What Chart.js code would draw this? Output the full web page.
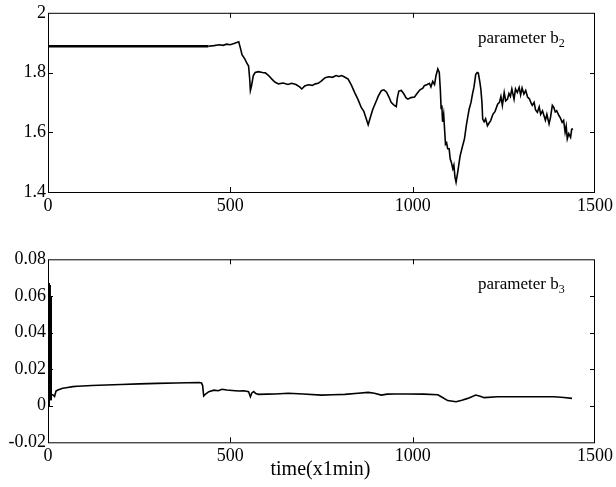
<!DOCTYPE html>
<html>
<head>
<meta charset="utf-8">
<script src="https://cdn.jsdelivr.net/npm/chart.js@4.4.1/dist/chart.umd.min.js"></script>
<style>
  html, body { margin: 0; padding: 0; background: #fff; }
  #wrap { position: relative; width: 616px; height: 487px; }
  #top-box { position: absolute; left: 0; top: 0; width: 616px; height: 230px; }
  #bottom-box { position: absolute; left: 0; top: 230px; width: 616px; height: 257px; }
</style>
</head>
<body>
<div id="wrap">
  <div id="top-box"><canvas id="chart-b2" width="616" height="230"></canvas></div>
  <div id="bottom-box"><canvas id="chart-b3" width="616" height="257"></canvas></div>
</div>
<script>
// Parameter b2
const b2Time = [0, 100, 200, 300, 400, 440, 455, 470, 480, 490, 500, 510, 523, 528, 532, 540, 545, 550, 553, 555,
  558, 563, 568, 577, 588, 596, 605, 614, 622, 632, 645, 658, 668, 680, 690, 696, 704, 714, 725, 733,
  741, 750, 760, 770, 780, 790, 798, 805, 812, 823, 832, 841, 850, 859, 866, 872, 878, 884, 891, 898,
  906, 914, 921, 928, 935, 941, 948, 955, 958, 962, 969, 976, 982, 987, 995, 1005, 1012, 1020, 1028, 1032,
  1040, 1046, 1050, 1055, 1060, 1064, 1069, 1073, 1076, 1078, 1080, 1082, 1085, 1088, 1090, 1093, 1096, 1100, 1103, 1106,
  1110, 1113, 1116, 1119, 1124, 1130, 1136, 1142, 1148, 1155, 1160, 1164, 1168, 1173, 1177, 1180, 1184, 1187, 1190, 1192,
  1196, 1200, 1205, 1210, 1214, 1220, 1226, 1233, 1238, 1242, 1246, 1251, 1255, 1260, 1264, 1268, 1272, 1278, 1282, 1287,
  1292, 1296, 1300, 1305, 1310, 1315, 1320, 1324, 1328, 1333, 1337, 1342, 1347, 1351, 1356, 1360, 1364, 1368, 1374, 1378,
  1383, 1387, 1391, 1395, 1401, 1405, 1410, 1414, 1418, 1421, 1424, 1428, 1433, 1436, 1440];
const b2Value = [1.888, 1.888, 1.888, 1.888, 1.888, 1.888, 1.890, 1.893, 1.891, 1.895, 1.893, 1.897, 1.903, 1.880, 1.860, 1.845, 1.832, 1.822, 1.780, 1.740,
  1.755, 1.790, 1.800, 1.803, 1.800, 1.799, 1.790, 1.778, 1.768, 1.762, 1.765, 1.760, 1.764, 1.760, 1.752, 1.745, 1.755, 1.759, 1.757, 1.762,
  1.764, 1.772, 1.783, 1.786, 1.784, 1.790, 1.787, 1.790, 1.786, 1.778, 1.758, 1.733, 1.710, 1.683, 1.670, 1.648, 1.625, 1.650, 1.678, 1.698,
  1.722, 1.739, 1.742, 1.735, 1.718, 1.700, 1.692, 1.686, 1.715, 1.738, 1.740, 1.728, 1.715, 1.711, 1.716, 1.718, 1.730, 1.742, 1.748, 1.756,
  1.760, 1.764, 1.752, 1.770, 1.760, 1.790, 1.812, 1.800, 1.740, 1.680, 1.690, 1.635, 1.660, 1.600, 1.560, 1.565, 1.545, 1.545, 1.510, 1.500,
  1.478, 1.490, 1.450, 1.433, 1.470, 1.520, 1.550, 1.578, 1.630, 1.678, 1.700, 1.728, 1.750, 1.794, 1.800, 1.798, 1.770, 1.744, 1.700, 1.644,
  1.635, 1.645, 1.622, 1.632, 1.639, 1.660, 1.670, 1.694, 1.700, 1.720, 1.690, 1.733, 1.705, 1.711, 1.730, 1.720, 1.745, 1.711, 1.745, 1.733,
  1.750, 1.725, 1.748, 1.728, 1.740, 1.718, 1.712, 1.700, 1.690, 1.700, 1.675, 1.667, 1.685, 1.660, 1.672, 1.656, 1.640, 1.660, 1.628, 1.650,
  1.690, 1.683, 1.668, 1.672, 1.656, 1.648, 1.633, 1.640, 1.600, 1.620, 1.578, 1.595, 1.583, 1.610, 1.611];

// Parameter b3
const b3Time = [0, 2, 3, 4, 5, 6, 7, 8, 9, 13, 18, 22, 27, 33, 40, 50, 68, 80, 95, 120,
  159, 200, 250, 300, 350, 414, 421, 424, 427, 433, 441, 455, 467, 477, 490, 505, 523, 537, 550, 553,
  555, 559, 564, 570, 577, 600, 623, 659, 700, 750, 780, 814, 850, 878, 895, 914, 930, 951, 987, 1030,
  1069, 1082, 1096, 1119, 1135, 1151, 1173, 1185, 1196, 1233, 1280, 1324, 1387, 1415, 1437];
const b3Value = [0.000, 0.067, 0.005, 0.066, 0.033, 0.060, 0.008, 0.003, 0.006, 0.006, 0.005, 0.008, 0.0086, 0.009, 0.0095, 0.0098, 0.0104, 0.0106, 0.0108, 0.0110,
  0.0113, 0.0116, 0.0119, 0.0122, 0.0124, 0.0127, 0.0124, 0.0110, 0.0053, 0.0065, 0.0077, 0.0085, 0.0082, 0.0090, 0.0086, 0.0083, 0.0080, 0.0082, 0.0077, 0.0060,
  0.0049, 0.0070, 0.0077, 0.0066, 0.0062, 0.0063, 0.0064, 0.0068, 0.0064, 0.0058, 0.0060, 0.0062, 0.0068, 0.0073, 0.0068, 0.0058, 0.0063, 0.0064, 0.0064, 0.0063,
  0.0060, 0.0045, 0.0028, 0.0022, 0.0030, 0.0040, 0.0058, 0.0052, 0.0044, 0.0049, 0.0049, 0.0049, 0.0049, 0.0045, 0.0040];

// Axis ticks
const xTicks = [0, 500, 1000, 1500];
const b2Ticks = [1.4, 1.6, 1.8, 2];
const b3Ticks = [-0.02, 0, 0.02, 0.04, 0.06, 0.08];

const FONT = "'Liberation Serif', 'Times New Roman', serif";

function toPoints(xs, ys) {
    return xs.map(function(x, i) { return { x: x, y: ys[i] }; });
}

// Box around the plot with inward ticks on all four sides, plus text labels
const framePlugin = {
    id: 'frame',
    afterDraw: function(chart, args, opts) {
        const ctx = chart.ctx;
        const a = chart.chartArea;
        const xs = chart.scales.x;
        const ys = chart.scales.y;
        const len = 5;
        ctx.save();
        ctx.strokeStyle = '#000';
        ctx.lineWidth = 1;
        ctx.strokeRect(a.left + 0.5, a.top + 0.5, a.right - a.left - 1, a.bottom - a.top);
        ctx.beginPath();
        xTicks.slice(1, -1).forEach(function(v) {
            const px = Math.round(xs.getPixelForValue(v)) + 0.5;
            ctx.moveTo(px, a.bottom); ctx.lineTo(px, a.bottom - len);
            ctx.moveTo(px, a.top); ctx.lineTo(px, a.top + len);
        });
        opts.yTicks.slice(1, -1).forEach(function(v) {
            const py = Math.round(ys.getPixelForValue(v)) + 0.5;
            ctx.moveTo(a.left, py); ctx.lineTo(a.left + len, py);
            ctx.moveTo(a.right, py); ctx.lineTo(a.right - len, py);
        });
        ctx.stroke();

        // "parameter b_n" label in the top right corner
        ctx.fillStyle = '#000';
        ctx.textBaseline = 'alphabetic';
        ctx.textAlign = 'left';
        ctx.font = '17px ' + FONT;
        const lx = a.right - 117;
        const ly = a.top + 30;
        const main = 'parameter b';
        ctx.fillText(main, lx, ly);
        const w = ctx.measureText(main).width;
        ctx.font = '12px ' + FONT;
        ctx.fillText(opts.sub, lx + w, ly + 4);

        if (opts.xTitle) {
            ctx.font = '20px ' + FONT;
            ctx.textAlign = 'center';
            ctx.fillText(opts.xTitle, (a.left + a.right) / 2 - 1, a.bottom + 33);
        }
        ctx.restore();
    }
};

function makeChart(canvasId, xs, ys, yMin, yMax, yTicks, fmt, xHeight, padTop, sub, xTitle, thickUntil) {
    const ctx = document.getElementById(canvasId).getContext('2d');
    return new Chart(ctx, {
        type: 'line',
        data: {
            datasets: [{
                data: toPoints(xs, ys),
                borderColor: '#000',
                borderWidth: 1.6,
                pointRadius: 0,
                tension: 0,
                fill: false,
                segment: {
                    borderWidth: function(c) {
                        return c.p1.parsed.x <= thickUntil ? 2.6 : 1.6;
                    }
                }
            }]
        },
        options: {
            responsive: false,
            animation: false,
            devicePixelRatio: 1,
            layout: { padding: { top: padTop, right: 18, left: 0, bottom: 0 } },
            plugins: {
                legend: { display: false },
                tooltip: { enabled: false },
                frame: { yTicks: yTicks, sub: sub, xTitle: xTitle }
            },
            scales: {
                x: {
                    type: 'linear',
                    min: 0,
                    max: 1500,
                    grid: { display: false, drawTicks: false },
                    border: { display: false },
                    afterBuildTicks: function(scale) {
                        scale.ticks = xTicks.map(function(v) { return { value: v }; });
                    },
                    ticks: {
                        color: '#000',
                        padding: 3,
                        maxRotation: 0,
                        font: { family: FONT, size: 18 },
                        callback: function(v) { return String(v); }
                    },
                    afterFit: function(scale) { scale.height = xHeight; }
                },
                y: {
                    min: yMin,
                    max: yMax,
                    grid: { display: false, drawTicks: false },
                    border: { display: false },
                    afterBuildTicks: function(scale) {
                        scale.ticks = yTicks.map(function(v) { return { value: v }; });
                    },
                    ticks: {
                        color: '#000',
                        padding: 2,
                        font: { family: FONT, size: 18 },
                        callback: fmt
                    },
                    afterFit: function(scale) { scale.width = 48; }
                }
            }
        },
        plugins: [framePlugin]
    });
}

makeChart('chart-b2', b2Time, b2Value, 1.4, 2, b2Ticks,
    function(v) { return v === 2 ? '2' : v.toFixed(1); },
    38, 10, '2', null, 440);

makeChart('chart-b3', b3Time, b3Value, -0.02, 0.08, b3Ticks,
    function(v) { return Math.abs(v) < 1e-9 ? '0' : v.toFixed(2); },
    44.7, 29.3, '3', 'time(x1min)', 8);
</script>
</body>
</html>
